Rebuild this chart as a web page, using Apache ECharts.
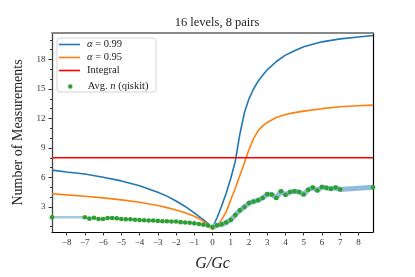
<!DOCTYPE html>
<html><head><meta charset="utf-8">
<script src="https://cdn.jsdelivr.net/npm/echarts@6/dist/echarts.min.js"></script>
<style>html,body{margin:0;padding:0;background:#fff}#c{width:415px;height:277px}</style>
</head><body><div id="c"></div>
<script>
// ---- data ----
const curveX = [-8.8,-8,-7,-6,-5,-4,-3,-2.5,-2,-1.5,-1,-0.75,-0.5,-0.25,0,0.25,0.5,0.75,1,1.25,1.5,1.75,2,2.25,2.5,2.75,3,3.5,4,4.5,5,6,7,8,8.8];
const alpha099 = [6.75,6.55,6.35,6.03,5.65,5.15,4.5,4.1,3.6,3.05,2.4,2.05,1.7,1.3,0.88,1.9,3.1,4.4,5.9,7.65,10.4,12.6,14.0,15.0,15.8,16.4,16.95,17.8,18.45,18.9,19.3,19.8,20.1,20.3,20.45];
const alpha095 = [4.35,4.23,4.09,3.92,3.72,3.47,3.15,2.93,2.68,2.4,2.05,1.82,1.55,1.18,0.7,1.1,1.7,2.5,3.7,4.9,6.2,7.5,8.85,9.95,10.75,11.25,11.6,12.1,12.4,12.6,12.75,13.0,13.2,13.3,13.36];
const integralX = [-8.8, 8.8];
const integralY = [8, 8];
const qiskitX = [-7,-6.75,-6.5,-6.25,-6,-5.75,-5.5,-5.25,-5,-4.75,-4.5,-4.25,-4,-3.75,-3.5,-3.25,-3,-2.75,-2.5,-2.25,-2,-1.75,-1.5,-1.25,-1,-0.75,-0.5,-0.25,0,0.25,0.5,0.75,1,1.25,1.5,1.75,2,2.25,2.5,2.75,3,3.25,3.5,3.75,4,4.25,4.5,4.75,5,5.25,5.5,5.75,6,6.25,6.5,6.75,7];
const qiskitN = [1.95,1.81,1.9,1.78,1.78,1.88,1.88,1.84,1.78,1.75,1.74,1.7,1.66,1.65,1.62,1.62,1.58,1.55,1.55,1.52,1.52,1.45,1.42,1.39,1.33,1.26,1.2,1.1,0.95,1.13,1.23,1.42,1.68,2.17,2.65,3.0,3.39,3.55,3.68,3.91,4.3,4.26,3.91,4.59,4.23,4.52,4.59,4.52,4.26,4.75,4.97,4.68,5.03,4.94,4.84,4.97,4.78];
const edgeX = [-8.8, 8.8];
const edgeN = [1.95, 5.0];
const xTicks = [-8,-7,-6,-5,-4,-3,-2,-1,0,1,2,3,4,5,6,7,8];
const yTicks = [3,6,9,12,15,18];
const yMinorTicks = [1,2,3,4,5,6,7,8,9,10,11,12,13,14,15,16,17,18,19,20];

// ---- build ----
const pairs = (xs, ys) => xs.map((x, i) => [x, ys[i]]);
const allX = [edgeX[0]].concat(qiskitX, [edgeX[1]]);
const allN = [edgeN[0]].concat(qiskitN, [edgeN[1]]);
const bandAll = pairs(allX, allN);
const bandLeft = bandAll.filter(p => p[0] <= 0);
const bandRight = bandAll.filter(p => p[0] >= 0);

const SERIF = '"Liberation Serif", "DejaVu Serif", serif';
const XMIN = -8.8, XMAX = 8.8, YMIN = 0.45, YMAX = 20.7;
const minus = v => String(v).replace('-', '\u2212');
const LINE_ICON = 'path://M0,0L21,0L21,1.6L0,1.6Z';
const legendText = {fontFamily: SERIF, fontSize: 10.5, color: '#222', padding: [0,0,0,2],
  rich: {i: {fontFamily: SERIF, fontSize: 10.5, fontStyle: 'italic', color: '#222'}}};

const chart = echarts.init(document.getElementById('c'), null, {renderer: 'canvas'});
chart.setOption({
  animation: false,
  backgroundColor: '#fff',
  title: {
    text: '16 levels, 8 pairs', left: 212, top: 11, textAlign: 'center',
    textStyle: {fontFamily: SERIF, fontSize: 12.5, fontWeight: 'normal', color: '#222'}
  },
  grid: {left: 52, right: 42, top: 33, bottom: 35},
  legend: [{
    data: [{name: 'α = 0.99', icon: LINE_ICON}, {name: 'α = 0.95', icon: LINE_ICON}, {name: 'Integral', icon: LINE_ICON}],
    orient: 'vertical', left: 57, top: 38,
    itemWidth: 21, itemHeight: 12, itemGap: 2,
    padding: [1, 34, 16, 2],
    borderColor: '#d4d4d4', borderWidth: 1, borderRadius: 3,
    backgroundColor: 'rgba(255,255,255,0.85)',
    formatter: n => n.charAt(0) === 'α' ? '{i|α}' + n.slice(1) : n,
    textStyle: legendText
  }, {
    data: [{name: 'Avg. n (qiskit)', icon: 'circle'}],
    orient: 'vertical', left: 66, top: 81,
    itemWidth: 21, itemHeight: 4.5, padding: [0,0,0,2],
    formatter: () => 'Avg. {i|n} (qiskit)',
    textStyle: legendText
  }],
  xAxis: [{
    type: 'value', min: XMIN, max: XMAX, position: 'bottom',
    name: 'G/Gc', nameLocation: 'middle', nameGap: 24,
    nameTextStyle: {fontFamily: SERIF, fontSize: 16, fontStyle: 'italic', color: '#222'},
    splitLine: {show: false},
    axisLine: {show: true, onZero: false, lineStyle: {color: '#000', width: 1}},
    axisTick: {show: true, customValues: xTicks, length: 3.5, lineStyle: {color: '#333'}},
    axisLabel: {customValues: xTicks, formatter: minus, margin: 6, fontFamily: SERIF, fontSize: 9, color: '#333'}
  }, {
    type: 'value', min: XMIN, max: XMAX, position: 'top',
    splitLine: {show: false},
    axisLine: {show: true, onZero: false, lineStyle: {color: '#888', width: 2}},
    axisTick: {show: false}, axisLabel: {show: false}
  }],
  yAxis: [{
    type: 'value', min: YMIN, max: YMAX, position: 'left',
    name: 'Number of Measurements', nameLocation: 'middle', nameGap: 20,
    nameTextStyle: {fontFamily: SERIF, fontSize: 14, color: '#222'},
    splitLine: {show: false},
    axisLine: {show: true, onZero: false, lineStyle: {color: '#444', width: 1.3}},
    axisTick: {show: true, customValues: yTicks, length: 3.5, lineStyle: {color: '#333'}},
    axisLabel: {customValues: yTicks, margin: 6.5, fontFamily: SERIF, fontSize: 9, color: '#333'}
  }, {
    type: 'value', min: YMIN, max: YMAX, position: 'left',
    splitLine: {show: false}, axisLine: {show: false, onZero: false},
    axisTick: {show: true, customValues: yMinorTicks, length: 2, lineStyle: {color: '#333'}},
    axisLabel: {show: false}
  }, {
    type: 'value', min: YMIN, max: YMAX, position: 'right',
    splitLine: {show: false},
    axisLine: {show: true, onZero: false, lineStyle: {color: '#000', width: 1.2}},
    axisTick: {show: false}, axisLabel: {show: false}
  }],
  series: [{
    name: 'α = 0.99', type: 'line', data: pairs(curveX, alpha099), symbol: 'none', z: 2,
    lineStyle: {color: '#1f77b4', width: 1.6}, itemStyle: {color: '#1f77b4'}, clip: true
  }, {
    name: 'α = 0.95', type: 'line', data: pairs(curveX, alpha095), symbol: 'none', z: 2,
    lineStyle: {color: '#ff7f0e', width: 1.6}, itemStyle: {color: '#ff7f0e'}, clip: true
  }, {
    name: 'Integral', type: 'line', data: pairs(integralX, integralY), symbol: 'none', z: 2,
    lineStyle: {color: '#ff0000', width: 1.6}, itemStyle: {color: '#ff0000'}, clip: true
  }, {
    name: 'bandL', type: 'line', data: bandLeft, symbol: 'none', z: 3,
    lineStyle: {color: '#a5c8e1', width: 2.6}, clip: true, silent: true
  }, {
    name: 'bandR', type: 'line', data: bandRight, symbol: 'none', z: 3,
    lineStyle: {color: '#8fbbd9', width: 5}, clip: true, silent: true
  }, {
    name: 'Avg. n (qiskit)', type: 'scatter', z: 6,
    data: pairs(qiskitX, qiskitN).concat(pairs(edgeX, edgeN)),
    symbol: 'circle', symbolSize: 4.6, itemStyle: {color: '#2ca02c', opacity: 1}
  }]
});
</script></body></html>
